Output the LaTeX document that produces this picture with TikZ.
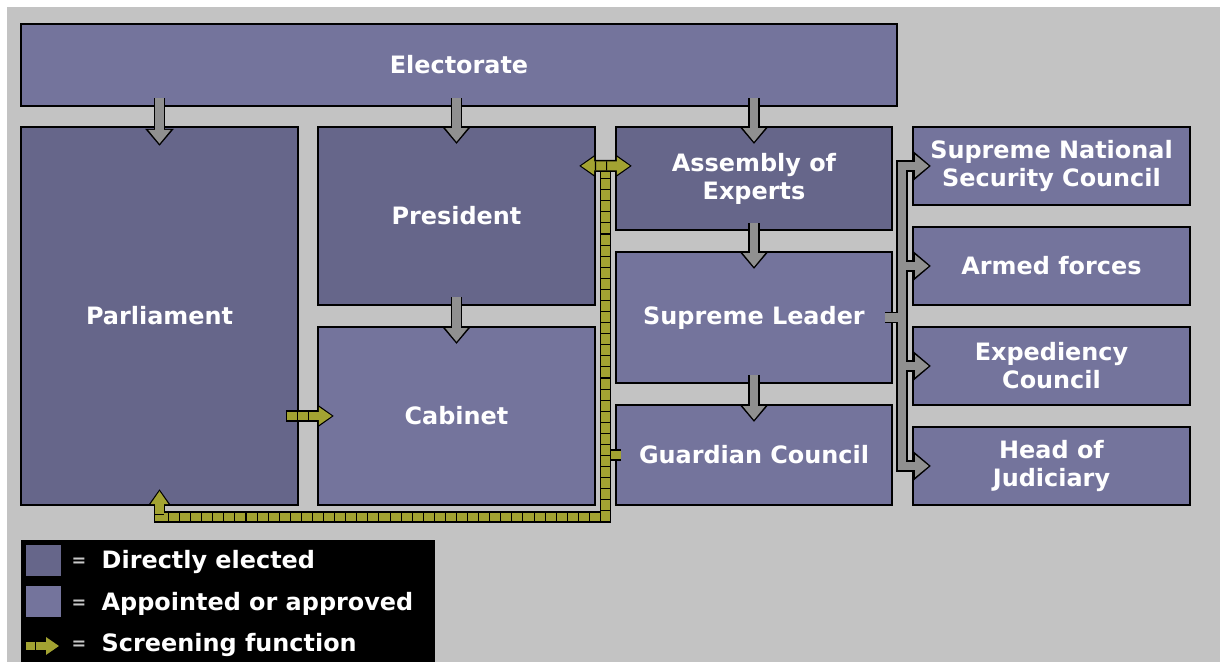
\documentclass[tikz,border=0pt]{standalone}
\usepackage{fontspec}
\setmainfont{DejaVu Sans}
\usetikzlibrary{calc}
\usetikzlibrary{arrows.meta}

\definecolor{bggray}{RGB}{195,195,195}
\definecolor{arrowgray}{RGB}{144,144,144}
\definecolor{screenolive}{RGB}{163,163,50}
\definecolor{appointed}{RGB}{116,116,156}
\definecolor{elected}{RGB}{102,102,138}
\definecolor{eqgray}{RGB}{200,200,200}

\begin{document}
\begin{tikzpicture}[x=0.01cm, y=0.01cm,
    box/.style={draw=black, line width=0.6pt, fill=appointed, text=white,
      font=\bfseries\fontsize{6.8}{8}\selectfont, align=center, inner sep=0pt},
    elbox/.style={box, fill=elected},
    fatback/.style={draw=black, line width=3.3pt, >={Triangle[width=7.8pt,length=4.8pt]}},
    fatfront/.style={draw=arrowgray, line width=2.3pt, shorten >=0.6pt, >={Triangle[width=6.1pt,length=3.9pt]}},
    sback/.style={draw=black, line width=3.4pt, line join=miter, >={Triangle[width=6pt,length=4.5pt]}},
    sfill/.style={draw=screenolive, line width=2.5pt, line join=miter, shorten >=0.55pt, >={Triangle[width=4.8pt,length=3.7pt]}},
    sdash/.style={draw=black, line width=2.5pt, dash pattern=on 0.3pt off 2.85pt},
    legtext/.style={text=white, anchor=west, inner sep=0pt, font=\bfseries\fontsize{6.8}{8}\selectfont},
  ]
    \useasboundingbox (0,0) rectangle (1227,-662);
    \fill[white] (0,0) rectangle (1227,-662);
    \fill[bggray] (7,-7) rectangle (1220,-662);

    % boxes
    \node[box, minimum width=8.76cm, minimum height=0.82cm] (elect) at (459,-65) {Electorate};
    \node[elbox, minimum width=2.77cm, minimum height=3.78cm] (parl) at (159.5,-316) {Parliament};
    \node[elbox, minimum width=2.77cm, minimum height=1.78cm] (pres) at (456.5,-216) {President};
    \node[box, minimum width=2.77cm, minimum height=1.78cm] (cab) at (456.5,-416) {Cabinet};
    \node[elbox, minimum width=2.76cm, minimum height=1.03cm] (assem) at (754,-178.5) {Assembly of\\Experts};
    \node[box, minimum width=2.76cm, minimum height=1.31cm] (leader) at (754,-317.5) {Supreme Leader};
    \node[box, minimum width=2.76cm, minimum height=1.00cm] (guard) at (754,-455) {Guardian Council};
    \node[box, minimum width=2.77cm, minimum height=0.78cm] (snsc) at (1051.5,-166) {Supreme National\\Security Council};
    \node[box, minimum width=2.77cm, minimum height=0.78cm] (armed) at (1051.5,-266) {Armed forces};
    \node[box, minimum width=2.77cm, minimum height=0.78cm] (exped) at (1051.5,-366) {Expediency\\Council};
    \node[box, minimum width=2.77cm, minimum height=0.78cm] (judic) at (1051.5,-466) {Head of\\Judiciary};

    % gray arrows
    \coordinate (e1) at ($(parl.north |- elect.south)+(0,9)$);
    \coordinate (e2) at ($(pres.north |- elect.south)+(0,9)$);
    \coordinate (e3) at ($(assem.north |- elect.south)+(0,9)$);
    \coordinate (p1) at ($(parl.north)+(0,-20)$);
    \coordinate (p2) at ($(pres.north)+(0,-18)$);
    \coordinate (a1) at ($(assem.north)+(0,-18)$);
    \coordinate (p3) at ($(pres.south)+(0,9)$);
    \coordinate (c1) at ($(cab.north)+(0,-18)$);
    \coordinate (a2) at ($(assem.south)+(0,8)$);
    \coordinate (l1) at ($(leader.north)+(0,-18)$);
    \coordinate (l2) at ($(leader.south)+(0,9)$);
    \coordinate (g1) at ($(guard.north)+(0,-18)$);
    \coordinate (bus) at ($(leader.east)+(9,0)$);
    \coordinate (ls) at ($(leader.east)+(-8,0)$);
    \coordinate (bt) at (bus |- snsc.west);
    \coordinate (bb) at (bus |- judic.west);

    \foreach \s/\t in {e1/p1, e2/p2, e3/a1, p3/c1, a2/l1, l2/g1}
      \draw[fatback, ->] (\s) -- (\t);
    \draw[fatback, line cap=rect] (bt) -- (bb);
    \draw[fatback] (ls) -- (bus);
    \foreach \n in {snsc, armed, exped, judic}
      \draw[fatback, ->] (bus |- \n.west) -- ($(\n.west)+(19,0)$);

    \foreach \s/\t in {e1/p1, e2/p2, e3/a1, p3/c1, a2/l1, l2/g1}
      \draw[fatfront, ->] (\s) -- (\t);
    \draw[fatfront, line cap=rect, shorten >=0pt] (bt) -- (bb);
    \draw[fatfront, shorten >=0pt] (ls) -- (bus);
    \foreach \n in {snsc, armed, exped, judic}
      \draw[fatfront, ->] (bus |- \n.west) -- ($(\n.west)+(19,0)$);

    % screening function
    \coordinate (stop) at (605.5,-167);
    \coordinate (scorner) at (605.5,-517);
    \coordinate (ptip) at ($(parl.south)+(0,17)$);
    \coordinate (gstub) at ($(guard.west)+(6,0)$);
    \coordinate (dl) at ($(pres.north east)+(-17,-40)$);
    \coordinate (dr) at ($(assem.north west)+(17,-40)$);
    \coordinate (pc1) at ($(parl.east |- cab.west)+(-13,0)$);
    \coordinate (pc2) at ($(cab.west)+(17,0)$);

    \draw[sback] (stop |- guard) -- (gstub);
    \draw[sfill, shorten >=0pt] (stop |- guard) -- (gstub);
    \draw[sback, ->] (stop) -- (scorner) -- (scorner -| ptip) -- (ptip);
    \draw[sfill, ->] (stop) -- (scorner) -- (scorner -| ptip) -- (ptip);
    \draw[sdash, shorten >=4.5pt] (stop) -- (scorner) -- (scorner -| ptip) -- (ptip);
    \draw[sback, <->] (dl) -- (dr);
    \draw[sfill, shorten <=0.55pt, <->] (dl) -- (dr);
    \draw[sdash, shorten <=4.5pt, shorten >=4.5pt] (dl) -- (dr);
    \draw[sback, ->] (pc1) -- (pc2);
    \draw[sfill, ->] (pc1) -- (pc2);
    \draw[sdash, shorten >=4.5pt] (pc1) -- (pc2);

    % legend
    \fill[black] (21,-540) rectangle (435,-662);
    \node[fill=elected, minimum width=0.35cm, minimum height=0.31cm, inner sep=0pt] (sw1) at (43.5,-561) {};
    \node[fill=appointed, minimum width=0.35cm, minimum height=0.31cm, inner sep=0pt] (sw2) at (43.5,-602) {};
    \coordinate (ic1) at (26,-646);
    \coordinate (ic2) at (61,-646);
    \draw[sfill, ->] (ic1) -- (ic2);
    \draw[sdash, shorten >=4.5pt, dash phase=-2.5pt] (ic1) -- (ic2);
    \node[text=eqgray, inner sep=0pt, font=\bfseries\fontsize{5}{6}\selectfont] at (79,-562) {=};
    \node[text=eqgray, inner sep=0pt, font=\bfseries\fontsize{5}{6}\selectfont] at (79,-604) {=};
    \node[text=eqgray, inner sep=0pt, font=\bfseries\fontsize{5}{6}\selectfont] at (79,-645) {=};
    \node[legtext] (lt1) at (101,-562) {Directly elected};
    \node[legtext] (lt2) at (101,-604) {Appointed or approved};
    \node[legtext] (lt3) at (101,-645) {Screening function};
\end{tikzpicture}
\end{document}
